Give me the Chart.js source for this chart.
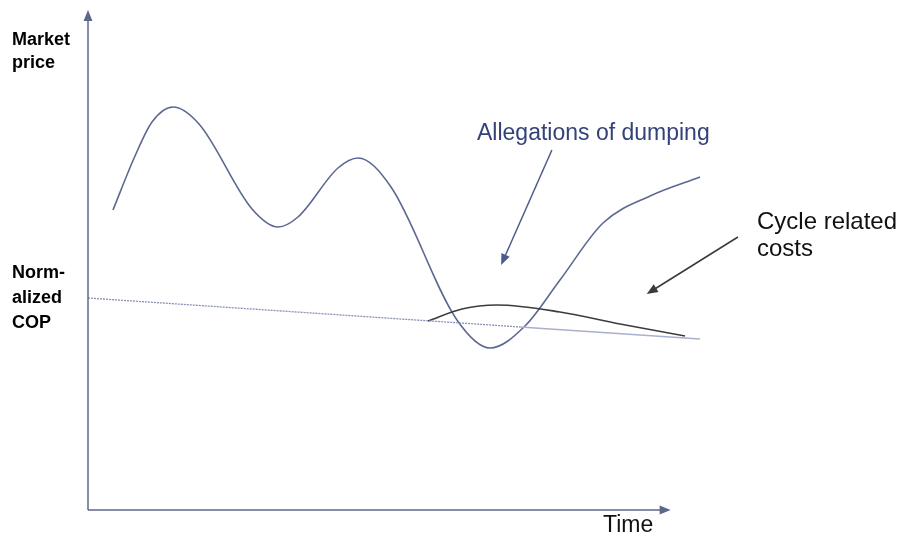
<!DOCTYPE html>
<html>
<head>
<meta charset="utf-8">
<script src="https://cdn.jsdelivr.net/npm/chart.js@4/dist/chart.umd.min.js"></script>
<style>
  html, body { margin: 0; padding: 0; background: #ffffff; }
  #wrap { width: 899px; height: 535px; position: relative; }
</style>
</head>
<body>
<div id="wrap"><canvas id="c" width="899" height="535"></canvas></div>
<script>
// Market price over time (arbitrary units, time 0..100, price 0..100)
const timeMarket  = [4.08, 7.68, 10.46, 13.89, 18.14, 26.80, 31.05, 34.31, 40.85, 44.12,
                     49.51, 60.29, 65.69, 71.41, 77.12, 84.15, 91.83, 100];
const priceMarket = [60.0, 70.8, 77.6, 80.6, 77.2, 60.2, 56.6, 58.6, 68.4, 70.4,
                     64.6, 38.0, 32.4, 36.8, 46.0, 57.4, 62.8, 66.6];

// Normalized cost of production (slowly declining)
const timeCop  = [0, 70.6, 100];
const levelCop = [42.4, 36.6, 34.2];

// Cost including cycle related costs
const timeCycle  = [55.56, 61.11, 66.83, 77.12, 86.93, 97.55];
const levelCycle = [37.8, 40.2, 41.0, 39.6, 37.2, 34.8];

const toPoints = (xs, ys) => xs.map((x, i) => ({ x, y: ys[i] }));

function arrowHead(ctx, x1, y1, x2, y2, len, half, color) {
  const a = Math.atan2(y2 - y1, x2 - x1);
  ctx.save();
  ctx.fillStyle = color;
  ctx.beginPath();
  ctx.moveTo(x2, y2);
  ctx.lineTo(x2 - len * Math.cos(a) + half * Math.sin(a), y2 - len * Math.sin(a) - half * Math.cos(a));
  ctx.lineTo(x2 - len * Math.cos(a) - half * Math.sin(a), y2 - len * Math.sin(a) + half * Math.cos(a));
  ctx.closePath();
  ctx.fill();
  ctx.restore();
}

function arrow(ctx, x1, y1, x2, y2, color, width) {
  const a = Math.atan2(y2 - y1, x2 - x1);
  ctx.save();
  ctx.strokeStyle = color;
  ctx.lineWidth = width;
  ctx.beginPath();
  ctx.moveTo(x1, y1);
  ctx.lineTo(x2 - 8 * Math.cos(a), y2 - 8 * Math.sin(a));
  ctx.stroke();
  ctx.restore();
  arrowHead(ctx, x1, y1, x2, y2, 11, 4.5, color);
}

// Axes with arrow tips, pointer arrows and text labels
const decorations = {
  id: 'decorations',
  afterDatasetsDraw(chart) {
    const { ctx, scales: { x, y } } = chart;
    const x0 = x.getPixelForValue(0);
    const y0 = y.getPixelForValue(0);
    const axisColor = '#5d6889';

    // y axis
    arrow(ctx, x0, y0, x0, y.getPixelForValue(100), axisColor, 1.5);
    // x axis
    arrow(ctx, x0, y0, x.getPixelForValue(95.2), y0, axisColor, 1.5);

    // pointer to the dip below cost
    arrow(ctx, x.getPixelForValue(75.8), y.getPixelForValue(72),
               x.getPixelForValue(67.5), y.getPixelForValue(49), '#4d5b8c', 1.5);
    // pointer to the cycle cost curve
    arrow(ctx, x.getPixelForValue(106.2), y.getPixelForValue(54.6),
               x.getPixelForValue(91.3), y.getPixelForValue(43.2), '#3a3a3a', 1.5);

    ctx.save();
    ctx.textBaseline = 'alphabetic';
    ctx.textAlign = 'left';

    ctx.fillStyle = '#000000';
    ctx.font = 'bold 18px "Liberation Sans", Arial, sans-serif';
    ctx.fillText('Market', 12, 45);
    ctx.fillText('price', 12, 68);
    ctx.fillText('Norm-', 12, 278);
    ctx.fillText('alized', 12, 303);
    ctx.fillText('COP', 12, 328);

    ctx.font = '23px "Liberation Sans", Arial, sans-serif';
    ctx.fillStyle = '#34427a';
    ctx.fillText('Allegations of dumping', 477, 140);

    ctx.fillStyle = '#111111';
    ctx.font = '24px "Liberation Sans", Arial, sans-serif';
    ctx.fillText('Cycle related', 757, 229);
    ctx.fillText('costs', 757, 256);

    ctx.font = '23px "Liberation Sans", Arial, sans-serif';
    ctx.fillText('Time', 603, 532);
    ctx.restore();
  }
};

new Chart(document.getElementById('c'), {
  type: 'line',
  data: {
    datasets: [
      {
        label: 'Normalized COP',
        data: toPoints(timeCop, levelCop),
        borderColor: '#8088ad',
        borderWidth: 1.3,
        pointRadius: 0,
        tension: 0,
        segment: {
          borderDash: ctx => ctx.p0DataIndex === 0 ? [2, 1] : [],
          borderColor: ctx => ctx.p0DataIndex === 0 ? '#8a92b4' : '#a9b0cc'
        }
      },
      {
        label: 'Cycle related costs',
        data: toPoints(timeCycle, levelCycle),
        borderColor: '#3c3c3c',
        borderWidth: 1.6,
        pointRadius: 0,
        cubicInterpolationMode: 'monotone'
      },
      {
        label: 'Market price',
        data: toPoints(timeMarket, priceMarket),
        borderColor: '#5c6892',
        borderWidth: 1.6,
        pointRadius: 0,
        cubicInterpolationMode: 'monotone'
      }
    ]
  },
  options: {
    responsive: false,
    animation: false,
    clip: false,
    layout: { padding: { left: 88, right: 199, top: 10, bottom: 25 } },
    plugins: { legend: { display: false }, tooltip: { enabled: false } },
    scales: {
      x: { type: 'linear', min: 0, max: 100, display: false },
      y: { type: 'linear', min: 0, max: 100, display: false }
    }
  },
  plugins: [decorations]
});
</script>
</body>
</html>
